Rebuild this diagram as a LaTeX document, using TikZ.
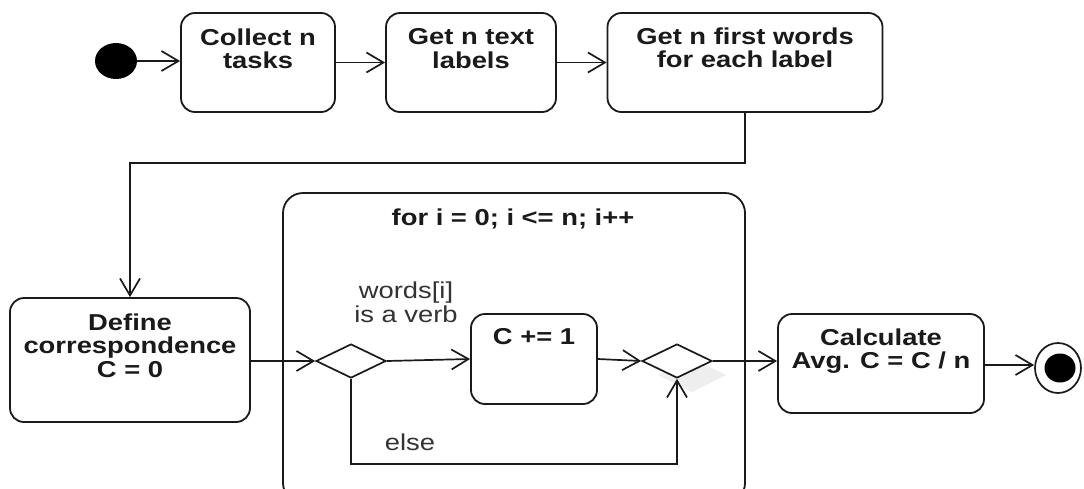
\documentclass[tikz,border=0pt]{standalone}
\usepackage{fontspec}
\setmainfont{Liberation Sans}[FakeStretch=1.19]
\usetikzlibrary{arrows.meta,shapes.geometric}
\definecolor{ink}{HTML}{1A1A1A}
\definecolor{lbl}{HTML}{333333}
\definecolor{shadowgray}{HTML}{EEEEEE}
\begin{document}
\begin{tikzpicture}[x=1pt,y=-1pt]
\tikzset{
  act/.style={draw=ink, fill=white, rounded corners=14pt, inner sep=0pt, line width=1.8pt},
  btxt/.style={anchor=north, align=center, inner sep=0pt, text=ink, font=\bfseries\fontsize{23}{23.5}\selectfont},
  ltxt/.style={anchor=north, align=center, inner sep=0pt, text=lbl, font=\fontsize{23}{24}\selectfont},
  flow/.style={draw=ink, line width=1.7pt, -{Straight Barb[length=17pt,width=20pt]}},
  dec/.style={diamond, draw=ink, fill=white, inner sep=0pt, minimum width=70pt, minimum height=34pt, line width=1.7pt},
}
\clip (0,0) rectangle (1084,488);
\fill[white] (0,0) rectangle (1084,488);

% loop frame
\node[act, rounded corners=20pt, minimum width=462pt, minimum height=310pt] (loop) at (514,348) {};
\node[btxt] (looptitle) at (513,208.5) {for i = 0; i <= n; i++};

% start
\node[ellipse, fill=black, inner sep=0pt, minimum width=42pt, minimum height=36pt] (start) at (116,61) {};

% top row
\node[act, minimum width=154pt, minimum height=99pt] (b1) at (258,62.5) {};
\node[btxt] (b1t) at (258,28.5) {Collect n\\tasks};
\node[act, minimum width=170pt, minimum height=99pt] (b2) at (471,62.5) {};
\node[btxt] (b2t) at (471,28.5) {Get n text\\labels};
\node[act, minimum width=275pt, minimum height=99pt] (b3) at (745,62.5) {};
\node[btxt] (b3t) at (745,27.5) {Get n first words\\for each label};

% define
\node[act, minimum width=240pt, minimum height=124pt] (def) at (130,360) {};
\node[btxt] (deft) at (130,313.5) {Define\\correspondence\\C = 0};

% decisions
\node[dec] (d1) at (351,361) {};
\fill[shadowgray] (692,358) -- (726,375) -- (692,392) -- (658,375) -- cycle;
\node[dec] (d2) at (677,361) {};

% C += 1
\node[act, minimum width=126pt, minimum height=90pt] (cbox) at (534,359) {};
\node[btxt] (cboxt) at (534,328.5) {C += 1};

% calculate
\node[act, minimum width=206pt, minimum height=99pt] (calc) at (881,363.5) {};
\node[btxt] (calct) at (881,328.5) {Calculate\\Avg. C = C / n};

% end
\node[ellipse, draw=ink, fill=white, line width=1.7pt, inner sep=0pt, minimum width=46pt, minimum height=50pt] (endo) at (1058,368) {};
\node[ellipse, fill=black, inner sep=0pt, minimum width=31pt, minimum height=29pt] (endi) at (1060,368) {};

% labels
\node[ltxt] (verb) at (406,281.5) {words[i]\\is a verb};
\node[ltxt] (elsel) at (410,433.5) {else};

% connectors
\coordinate (k1) at (745,163);
\coordinate (k2) at (0,464);
\draw[flow] (start) -- (start -| b1.west);
\draw[flow] (b1) -- (b2);
\draw[flow] (b2) -- (b3);
\draw[flow] (b3.south) -- (b3.south |- k1) -| (def.north);
\draw[flow] (def.east |- d1) -- (d1.west);
\draw[flow] (d1.east) -- (cbox.west);
\draw[flow] (cbox.east) -- (d2.west);
\draw[flow] (d1.south) -- (d1.south |- k2) -| (d2.south);
\draw[flow] (d2.east) -- (d2.east -| calc.west);
\draw[flow] (calc.east |- 0,365) -- (endo.west |- 0,365);
\end{tikzpicture}
\end{document}
